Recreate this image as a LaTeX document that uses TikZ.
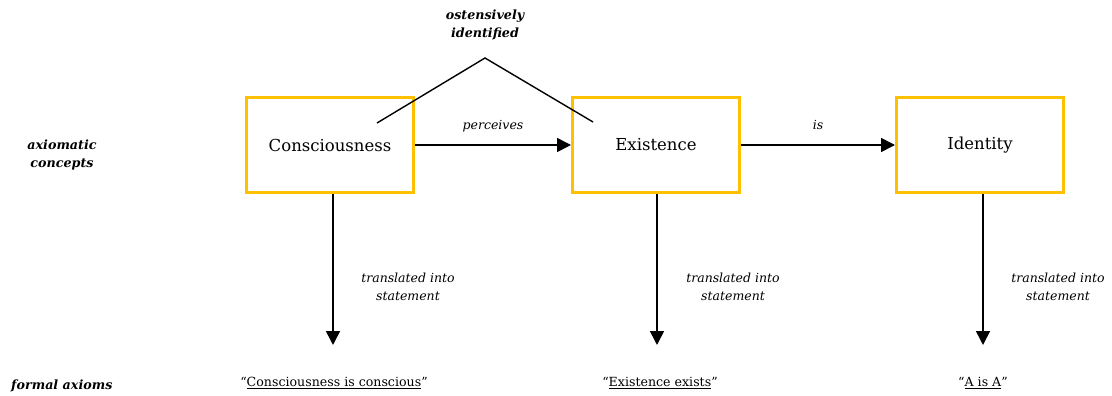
\documentclass[tikz,border=0pt]{standalone}
\usepackage{fontspec}
\setmainfont{DejaVu Serif}
\usetikzlibrary{arrows.meta}
\begin{document}
\begin{tikzpicture}[x=1pt,y=-1pt,
  concept/.style={draw=gold,line width=3pt,minimum width=167pt,minimum height=95pt,inner sep=0pt,font=\fontsize{16.5}{20}\selectfont},
  lbl/.style={font=\fontsize{12.5}{18}\selectfont\itshape,align=center,inner sep=0pt},
  side/.style={font=\fontsize{12.7}{18}\selectfont\bfseries\itshape,align=center,inner sep=0pt},
  axiom/.style={font=\fontsize{12.6}{15}\selectfont,inner sep=0pt},
  arr/.style={line width=1.6pt,-{Triangle[length=14pt,width=14pt]}},
  ln/.style={line width=1.4pt}]
\definecolor{gold}{HTML}{FFC000}
\useasboundingbox (0,0) rectangle (1112,396);
% concept boxes
\node[concept] (con) at (330,145) {Consciousness};
\node[concept] (exi) at (656,145) {Existence};
\node[concept] (ide) at (980,145) {Identity};
% horizontal arrows
\draw[arr] (con.east) -- (exi.west) node[lbl,midway,anchor=base,yshift=16pt] {perceives};
\draw[arr] (exi.east) -- (ide.west) node[lbl,midway,anchor=base,yshift=16pt] {is};
% ostensively identified
\coordinate (t1) at (377,123);
\coordinate (apex) at (485,58);
\coordinate (t2) at (593,122);
\draw[ln] (t1) -- (apex) -- (t2);
\node[side] (ost) at (485,25) {ostensively\\identified};
% side labels
\node[side] (ax) at (62,155) {axiomatic\\concepts};
\node[side,anchor=west] (fa) at (11,386) {formal axioms};
% bottom axioms
\node[axiom] (a1) at (334,383) {``\underline{Consciousness is conscious}''};
\node[axiom] (a2) at (660,383) {``\underline{Existence exists}''};
\node[axiom] (a3) at (983,383) {``\underline{A is A}''};
% down arrows
\coordinate (d1) at (333,345);
\coordinate (d2) at (657,345);
\coordinate (d3) at (983,345);
\draw[arr] (con.south -| d1) -- (d1);
\draw[arr] (exi.south -| d2) -- (d2);
\draw[arr] (ide.south -| d3) -- (d3);
\node[lbl] (l1) at (408,287) {translated into\\statement};
\node[lbl] (l2) at (733,287) {translated into\\statement};
\node[lbl] (l3) at (1058,287) {translated into\\statement};
\end{tikzpicture}
\end{document}
